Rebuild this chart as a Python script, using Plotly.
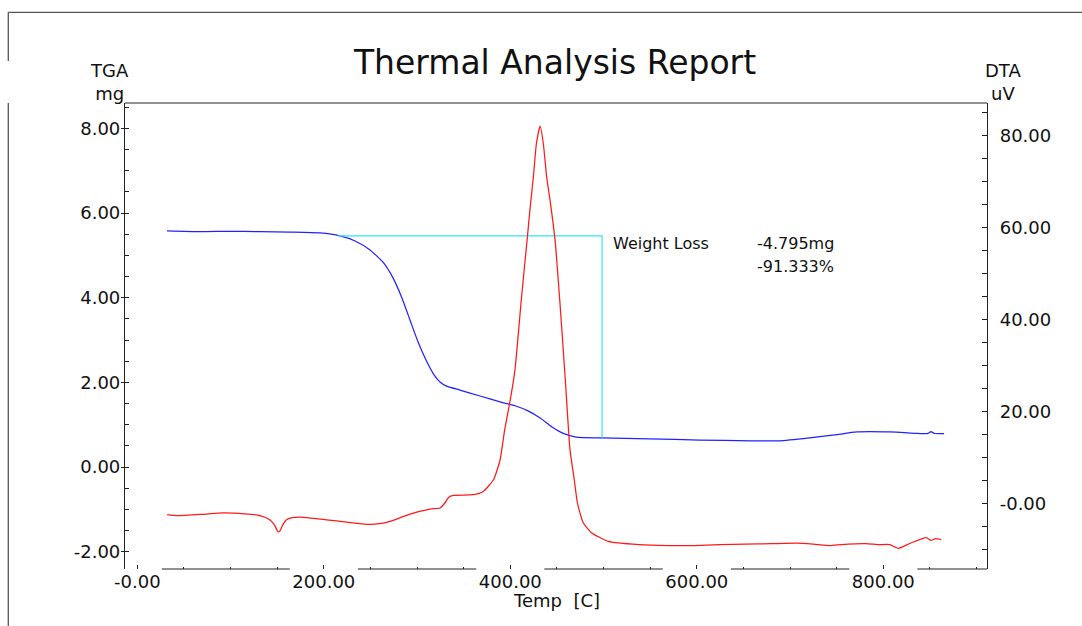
import plotly.graph_objects as go

# ---------------- data ----------------
tga_temp = [31.8, 67, 99.4, 131.6, 163.8, 196, 217.4, 233.5, 249.5, 263.5, 274.2, 283.9,
            292.5, 301, 309.6, 318.2, 324.6, 331, 346, 367.5, 389, 405, 419, 432, 444.7,
            457.6, 470.5, 496, 549.6, 603, 657, 689, 721, 748, 771.7, 807, 834, 847, 849,
            851, 854.5, 865.2]
tga_mg = [5.58, 5.56, 5.57, 5.56, 5.55, 5.53, 5.46, 5.34, 5.13, 4.84, 4.47, 3.99,
          3.47, 2.96, 2.53, 2.18, 2.01, 1.92, 1.82, 1.68, 1.54, 1.45, 1.33, 1.16, 0.95,
          0.79, 0.71, 0.69, 0.67, 0.64, 0.62, 0.62, 0.69, 0.76, 0.83, 0.83, 0.80, 0.79, 0.81,
          0.84, 0.80, 0.79]

dta_temp = [32, 42, 70, 92, 115, 131.6, 142, 147, 151, 153, 156, 160, 166, 175, 203, 224.5,
            247.7, 260, 271, 292.4, 314, 324.6, 330, 334, 339, 360, 371, 382, 389, 394,
            400, 405, 412, 418, 421, 424.7, 428, 432, 435.4, 439, 442.6, 448, 453, 459,
            464, 468.6, 472, 478, 487, 505, 538, 570, 597, 625, 652, 680, 708, 725, 744,
            762, 781, 795, 807, 816, 829, 846, 851, 856, 862]
dta_uv = [-2.5, -2.7, -2.4, -2.1, -2.3, -2.7, -3.6, -4.7, -6.25, -6.0, -4.7, -3.6, -3.15,
          -3.0, -3.6, -4.1, -4.6, -4.45, -3.95, -2.35, -1.26, -1.04, 0.1, 1.3, 1.7, 1.85,
          2.56, 5.1, 9.4, 16.0, 22.5, 29.0, 44.7, 57.2, 63.7, 70.9, 78.2, 82.0, 78.2, 70.9,
          65.9, 57.2, 44.2, 26.8, 11.6, 5.1, 0.0, -4.2, -6.4, -8.3, -9.0, -9.2, -9.2, -9.0,
          -8.9, -8.8, -8.7, -8.9, -9.2, -8.9, -8.8, -9.0, -9.0, -9.8, -8.7, -7.5, -8.1, -7.7,
          -7.9]

# weight-loss step marker (cyan)
step_temp = [215, 498.4, 498.4]
step_mg = [5.46, 5.46, 0.70]

x_tickvals = [0, 200, 400, 600, 800]
x_ticktext = ["-0.00", "200.00", "400.00", "600.00", "800.00"]
y_tickvals = [-2, 0, 2, 4, 6, 8]
y_ticktext = ["-2.00", "0.00", "2.00", "4.00", "6.00", "8.00"]
y2_tickvals = [0, 20, 40, 60, 80]
y2_ticktext = ["-0.00", "20.00", "40.00", "60.00", "80.00"]

title_text = "Thermal Analysis Report"
loss_label = "Weight Loss"
loss_mg = "-4.795mg"
loss_pct = "-91.333%"

# ---------------- figure ----------------
FONT = "DejaVu Sans"
AX = "#222222"
TXT = "#111111"

fig = go.Figure()
fig.add_trace(go.Scatter(x=tga_temp, y=tga_mg, mode="lines",
                         line=dict(color="#2222ff", width=1.25, shape="spline", smoothing=0.5),
                         name="TGA", yaxis="y"))
fig.add_trace(go.Scatter(x=dta_temp, y=dta_uv, mode="lines",
                         line=dict(color="#ff1a1a", width=1.25, shape="spline", smoothing=0.5),
                         name="DTA", yaxis="y2"))
fig.add_trace(go.Scatter(x=step_temp, y=step_mg, mode="lines",
                         line=dict(color="#33e6f0", width=1.2),
                         name="step", yaxis="y"))

xr = [-13.2, 911.2]
fig.update_layout(
    width=1082, height=626,
    margin=dict(l=125, r=95, t=103, b=57),
    paper_bgcolor="white", plot_bgcolor="white",
    showlegend=False,
    font=dict(family=FONT, color=TXT, size=18),
    title=dict(text=title_text, x=555 / 1082, xanchor="center", xref="container",
               y=1 - 62 / 626, yanchor="middle", yref="container",
               font=dict(family=FONT, size=33, color=TXT)),
    xaxis=dict(range=xr, showgrid=False, zeroline=False, showline=False,
               tickmode="array", tickvals=x_tickvals, ticktext=x_ticktext,
               ticks="inside", ticklen=4, tickcolor=AX, tickwidth=1.2,
               tickfont=dict(family=FONT, size=18, color=TXT),
               minor=dict(tickmode="linear", tick0=0, dtick=50, ticks="inside",
                          ticklen=2, tickcolor=AX, tickwidth=1.2)),
    yaxis=dict(range=[-2.406, 8.60], showgrid=False, zeroline=False,
               showline=True, linecolor=AX, linewidth=1.2,
               tickmode="array", tickvals=y_tickvals, ticktext=y_ticktext,
               ticks="outside", ticklen=3, tickcolor=AX, tickwidth=1.2,
               ticklabelstandoff=-3,
               tickfont=dict(family=FONT, size=18, color=TXT),
               minor=dict(tickmode="linear", tick0=0, dtick=0.5, ticks="inside",
                          ticklen=4, tickcolor=AX, tickwidth=1.2)),
    yaxis2=dict(range=[-14.3, 87.0], overlaying="y", side="right", showgrid=False,
                zeroline=False, showline=True, linecolor=AX, linewidth=1.2,
                tickmode="array", tickvals=y2_tickvals, ticktext=y2_ticktext,
                ticks="inside", ticklen=5, tickcolor=AX, tickwidth=1.2,
                ticklabelstandoff=8,
                tickfont=dict(family=FONT, size=18, color=TXT),
                minor=dict(tickmode="linear", tick0=0, dtick=5, ticks="inside",
                           ticklen=5, tickcolor=AX, tickwidth=1.2)),
)

# axis titles
fig.add_annotation(text="TGA<br>mg", xref="paper", yref="paper", x=(109 - 125) / 862,
                   y=(569 - 82) / 466, xanchor="center", yanchor="middle", showarrow=False,
                   font=dict(family=FONT, size=18, color=TXT))
fig.add_annotation(text="DTA<br>uV", xref="paper", yref="paper", x=(1002.5 - 125) / 862,
                   y=(569 - 82) / 466, xanchor="center", yanchor="middle", showarrow=False,
                   font=dict(family=FONT, size=18, color=TXT))
fig.add_annotation(text="Temp\u00a0\u00a0[C]", xref="paper", yref="paper", x=(556 - 125) / 862,
                   y=(569 - 600) / 466, xanchor="center", yanchor="middle", showarrow=False,
                   font=dict(family=FONT, size=18, color=TXT))

# weight loss annotations
fig.add_annotation(text=loss_label, xref="x", yref="y", x=508.0, y=5.27,
                   xanchor="left", yanchor="middle", showarrow=False,
                   font=dict(family=FONT, size=16, color=TXT))
fig.add_annotation(text=loss_mg, xref="x", yref="y", x=662.5, y=5.27,
                   xanchor="left", yanchor="middle", showarrow=False,
                   font=dict(family=FONT, size=16, color=TXT))
fig.add_annotation(text=loss_pct, xref="x", yref="y", x=662.5, y=4.735,
                   xanchor="left", yanchor="middle", showarrow=False,
                   font=dict(family=FONT, size=16, color=TXT))

shapes = []
# bottom axis line, interrupted behind the tick labels
gaps = []
for v in x_tickvals:
    half = 26.3 if v == 0 else 36.5
    gaps.append((v - half, v + half))
start = xr[0]
for g0, g1 in gaps:
    if g0 > start:
        shapes.append(dict(type="line", xref="x", yref="paper", x0=start, x1=g0, y0=0, y1=0,
                           line=dict(color=AX, width=1.2)))
    start = max(start, g1)
shapes.append(dict(type="line", xref="x", yref="paper", x0=start, x1=xr[1], y0=0, y1=0,
                   line=dict(color=AX, width=1.2)))
# top border of the plot area
shapes.append(dict(type="line", xref="paper", yref="paper", x0=0, x1=1, y0=1, y1=1,
                   line=dict(color=AX, width=1.2)))
# outer report frame
px = lambda p: (p - 125) / 862
py = lambda p: (569 - p) / 466
FR = "#555555"
shapes.append(dict(type="line", xref="paper", yref="paper", x0=px(8.3), x1=px(1082),
                   y0=py(12.3), y1=py(12.3), line=dict(color=FR, width=1.3)))
shapes.append(dict(type="line", xref="paper", yref="paper", x0=px(8.3), x1=px(8.3),
                   y0=py(12.3), y1=py(61), line=dict(color=FR, width=1.3)))
shapes.append(dict(type="line", xref="paper", yref="paper", x0=px(8.3), x1=px(8.3),
                   y0=py(103), y1=py(626), line=dict(color=FR, width=1.3)))
fig.update_layout(shapes=shapes)

fig.write_html("out.html")
